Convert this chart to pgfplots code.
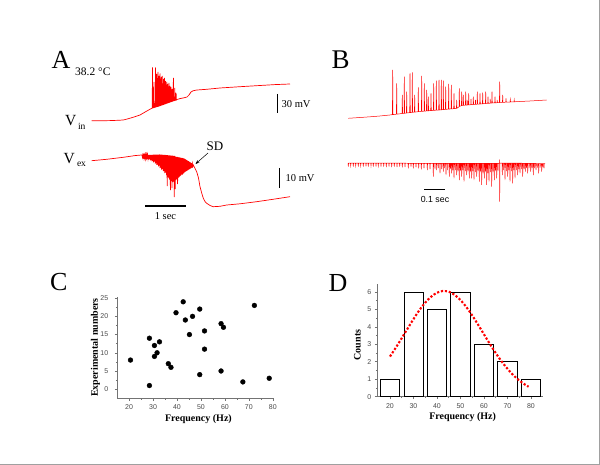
\documentclass[border=0pt]{standalone}
\usepackage{fontspec}
\setmainfont{Liberation Serif}
\newfontfamily\arialfont{Liberation Sans}
\usepackage{pgfplots}
\pgfplotsset{compat=1.18}
\usetikzlibrary{arrows.meta}
\definecolor{trace}{RGB}{255,0,0}
\definecolor{axgray}{RGB}{115,115,115}
\definecolor{lblgray}{RGB}{75,75,75}
\definecolor{framegray}{RGB}{160,160,160}
\begin{document}
\begin{tikzpicture}
\path[use as bounding box, fill=white] (0,0) rectangle (600pt,465pt);
\draw[framegray, line width=1pt] (0,0.7pt) -- (599.4pt,0.7pt) -- (599.4pt,465pt);
% ---------- canvas for panels A and B (pixel coordinates) ----------
\begin{axis}[at={(0pt,0pt)}, anchor=south west, width=600pt, height=465pt,
  scale only axis, xmin=0, xmax=600, ymin=0, ymax=465, y dir=reverse,
  axis lines=none, clip=false]
% A: Vin
\addplot[trace, line width=0.7pt] coordinates {
(91.7,120.7) (100,120.8) (110,120.6) (118,120.3) (123.3,120) (128,118.8) (134,117) (140,115) (146,111.5) (151.7,108.3)
(152.2,108.1) (152.5,67.5) (152.8,107.9)
(153.6,107.7) (153.9,82) (154.2,107.5)
(155.3,107.2) (155.6,67.5) (155.9,107.0)
(156.5,106.8) (156.8,74) (157.1,106.6)
(157.6,106.5) (157.9,72) (158.2,106.3)
(158.7,106.1) (159.0,76) (159.3,106.0)
(159.8,105.8) (160.1,73.5) (160.4,105.6)
(160.9,105.4) (161.2,77) (161.5,105.2)
(162.0,105.0) (162.3,76) (162.6,104.8)
(163.1,104.6) (163.4,79) (163.7,104.4)
(164.2,104.2) (164.5,78) (164.8,104.0)
(165.3,103.8) (165.6,81) (165.9,103.6)
(166.4,103.4) (166.7,82) (167.0,103.2)
(167.5,103.0) (167.8,84) (168.1,102.8)
(168.6,102.6) (168.9,83) (169.2,102.4)
(169.7,102.2) (170.0,86) (170.3,102.0)
(170.8,101.8) (171.1,87) (171.4,101.6)
(172.0,101.4) (172.3,89) (172.6,101.2)
(173.1,101.0) (173.4,78) (173.7,100.8)
(174.5,100.6) (174.8,88) (175.1,100.4)
(175.8,100.2) (176.1,93) (176.4,100.0)
(177,99.5) (180,98.6) (184,97.8) (187,97) (189,95) (191,92) (193.3,90.7) (197,90) (206.7,89.3) (220,88) (240,86.7) (260,85.5) (275,84.6) (290,84)
};
% A: Vex
\addplot[trace, line width=0.7pt] coordinates {
(91.7,160.7) (106.7,159.3) (123.3,157.3) (135,155.6) (141.5,155)
(142.0,155.0) (142.4,157.5) (142.8,155) (143.2,157) (143.6,155) (144.0,158.1)
(144.4,155) (144.8,157.5) (145.2,155) (145.6,158.8) (146.0,155) (146.4,158)
(146.8,155) (147.2,159.1) (147.6,155) (148.0,158.5) (148.4,154.8) (148.8,159.6)
(149.2,154.8) (149.6,159) (150.0,154.8) (150.4,160.3) (150.8,154.8) (151.2,160)
(151.6,154.8) (152.0,161.3) (152.4,154.8) (152.8,160.8) (153.2,154.7) (153.6,162.4)
(154.0,154.7) (154.4,161.5) (154.8,154.7) (155.2,163.5) (155.6,154.7) (156.0,163)
(156.4,154.6) (156.8,164.8) (157.2,154.6) (157.6,164.5) (158.0,154.6) (158.4,166.4)
(158.8,154.6) (159.2,165.5) (159.6,154.5) (160.0,168) (160.4,154.6) (160.8,167.5)
(161.2,154.7) (161.6,169.6) (162.0,154.7) (162.4,169) (162.8,154.8) (163.2,171.2)
(163.6,154.9) (164.0,171) (164.4,154.9) (164.8,173) (165.2,155.0) (165.6,172.5)
(166.0,155.1) (166.4,175.2) (166.8,155.2) (167.2,186) (167.6,155.2) (168.0,177)
(168.4,155.3) (168.8,178) (169.2,155.4) (169.6,179.5) (170.0,155.5) (170.4,190)
(170.8,155.6) (171.2,181) (171.6,155.6) (172.0,188) (172.4,155.7) (172.8,182)
(173.2,155.8) (173.6,181.5) (174.0,155.9) (174.3,197) (174.8,156.0) (175.2,189)
(175.6,156.6) (176.0,180) (176.4,156.8) (176.8,179) (177.2,157.0) (177.6,184)
(178.0,157.1) (178.4,177.5) (178.8,157.3) (179.2,177) (179.6,157.5) (180.0,176)
(180.4,157.6) (180.8,175.5) (181.2,157.8) (181.6,174.5) (182.0,158.0) (182.4,174.5)
(182.8,158.2) (183.2,173.5) (183.6,158.4) (184.0,173) (184.4,158.6) (184.8,172)
(185.2,159.1) (185.6,171.5) (186.0,159.6) (186.4,171) (186.8,160.1) (187.2,170.5)
(187.6,160.6) (188.0,170) (188.4,161.1) (188.8,169.5) (189.2,161.6) (189.6,169)
(190.0,162.1) (190.4,168.5) (190.8,162.6) (191.2,168) (191.6,163.1) (192.0,167.5)
(192.4,163.6) (192.8,166.5)
(193.3,165) (196.7,171.7) (198.5,178) (200,186.7) (201.7,193) (203.3,198.3) (205,201.5) (206.7,203.3) (210,205.5) (213.3,206.7) (220,206.3) (226.7,205) (240,203.8) (256.7,201.7) (275,199) (290,196.7)
};
% B: intracellular
\addplot[trace, line width=0.5pt] coordinates {
(348.3,118.3) (360,117.5) (370,116.8) (380,116) (390,115)
(392.4,114.6)(392.7,70)(393.0,114.6)
(396.4,114.2)(396.7,83.3)(397.0,114.2)
(402.0,113.5)(402.3,95)(402.6,113.5)
(404.0,113.3)(404.3,76.7)(404.6,113.3)
(406.4,113.0)(406.7,91.7)(407.0,113.0)
(409.7,112.6)(410.0,73.3)(410.3,112.6)
(412.0,112.3)(412.3,72.3)(412.6,112.3)
(414.4,112.1)(414.7,95)(415.0,112.1)
(418.0,111.7)(418.3,87.3)(418.6,111.7)
(421.4,111.4)(421.7,76)(422.0,111.4)
(424.0,111.2)(424.3,83.3)(424.6,111.2)
(426.4,110.9)(426.7,90)(427.0,110.9)
(428.0,110.8)(428.3,96.7)(428.6,110.8)
(430.7,110.6)(431.0,93.3)(431.3,110.6)
(433.4,110.4)(433.7,83.3)(434.0,110.4)
(436.0,110.2)(436.3,80.7)(436.6,110.2)
(438.7,110.0)(439.0,80)(439.3,110.0)
(441.0,109.8)(441.3,80)(441.6,109.8)
(443.0,109.6)(443.3,80.7)(443.6,109.6)
(445.4,109.4)(445.7,86.7)(446.0,109.4)
(448.4,109.1)(448.7,84)(449.0,109.1)
(451.0,108.9)(451.3,85)(451.6,108.9)
(453.7,108.7)(454.0,93.3)(454.3,108.7)
(456.4,108.4)(456.7,100)(457.0,108.2)
(459.0,106.8)(459.3,88.3)(459.6,106.4)
(461.4,105.6)(461.7,91.7)(462.0,105.5)
(463.0,105.4)(463.3,95)(463.6,105.3)
(465.4,105.2)(465.7,91.7)(466.0,105.2)
(467.0,105.1)(467.2,100)(467.4,105.0)
(468.4,104.9)(468.7,93.3)(469.0,104.9)
(470.8,104.7)(471.0,99)(471.2,104.7)
(473.0,104.5)(473.3,96.7)(473.6,104.5)
(475.3,104.4)(475.5,100)(475.7,104.4)
(477.0,104.2)(477.3,91.7)(477.6,104.2)
(479.7,104.0)(480.0,93.3)(480.3,104.0)
(482.4,103.8)(482.7,92.7)(483.0,103.8)
(485.4,103.5)(485.7,91.7)(486.0,103.5)
(487.7,103.4)(488.0,96.7)(488.3,103.4)
(490.0,103.2)(490.2,99)(490.4,103.2)
(491.7,103.0)(492.0,91.7)(492.3,103.0)
(494.7,102.9)(495.0,96.7)(495.3,102.9)
(497.0,102.7)(497.2,100)(497.4,102.7)
(499.4,102.5)(499.7,81.7)(500.0,102.5)
(502.4,102.4)(502.7,95)(503.0,102.4)
(505.7,102.2)(506.0,98.3)(506.3,102.2)
(510.0,102.0)(510.3,99.3)(510.6,102.0)
(514.0,101.8)(514.2,100)(514.4,101.8)
(520,101.5)(530,101)(540,100.4)(546.7,100)
};
% B: extracellular
\addplot[trace, line width=0.45pt] coordinates {
(348.0,163.2)(348.3,166.5)(348.6,163.2) (350.4,163.2)(350.7,166)(351.0,163.2)
(353.0,163.2)(353.3,166.7)(353.6,163.2) (355.4,163.2)(355.7,166)(356.0,163.2)
(358.0,163.2)(358.3,166.5)(358.6,163.2) (360.4,163.2)(360.7,166)(361.0,163.2)
(363.0,163.2)(363.3,166.7)(363.6,163.2) (365.7,163.2)(366.0,166.3)(366.3,163.2)
(368.0,163.2)(368.3,166.5)(368.6,163.2) (370.7,163.2)(371.0,166)(371.3,163.2)
(373.0,163.2)(373.3,166.7)(373.6,163.2) (375.7,163.2)(376.0,166.5)(376.3,163.2)
(378.0,163.2)(378.3,166)(378.6,163.2) (380.7,163.2)(381.0,166.7)(381.3,163.2)
(383.4,163.2)(383.7,166.5)(384.0,163.2) (386.0,163.2)(386.3,167)(386.6,163.2)
(388.7,163.2)(389.0,166.5)(389.3,163.2) (391.4,163.2)(391.7,167)(392.0,163.2)
(394.0,163.2)(394.3,166.7)(394.6,163.2) (396.7,163.2)(397.0,167)(397.3,163.2)
(399.4,163.2)(399.7,166.7)(400.0,163.2) (402.0,163.2)(402.3,167.3)(402.6,163.2)
(404.7,163.2)(405.0,167)(405.3,163.2)
(408.0,163.3)(408.3,168.3)(408.6,163.3) (410.7,163.3)(411.0,166.7)(411.3,163.3)
(413.0,163.3)(413.3,168.3)(413.6,163.3) (415.7,163.3)(416.0,167.3)(416.3,163.3)
(418.4,163.3)(418.7,168.3)(419.0,163.3) (421.0,163.4)(421.3,169.3)(421.6,163.4)
(423.7,163.4)(424.0,168.3)(424.3,163.4) (427.0,163.4)(427.3,170)(427.6,163.4)
(429.7,163.4)(430.0,169.3)(430.3,163.4)
(433.0,163.4)(433.3,176.7)(433.6,163.4) (434.8,163.4)(435.0,169)(435.2,163.4)
(436.4,163.4)(436.7,170)(437.0,163.4) (438.1,163.4)(438.3,168)(438.5,163.4)
(439.7,163.4)(440.0,173.3)(440.3,163.4) (441.5,163.4)(441.7,169)(441.9,163.4)
(443.0,163.4)(443.3,171.7)(443.6,163.4) (444.5,163.4)(444.7,168)(444.9,163.4)
(445.7,163.4)(446.0,175)(446.3,163.4) (447.5,163.4)(447.7,170)(447.9,163.4)
(449.0,163.4)(449.3,176.7)(449.6,163.4) (450.3,163.4)(450.5,169)(450.7,163.4)
(451.4,163.4)(451.7,173.3)(452.0,163.4) (452.6,163.4)(452.8,170)(453.0,163.4)
(453.7,163.4)(454.0,178.3)(454.3,163.4) (455.1,163.4)(455.3,170)(455.5,163.4)
(456.4,163.4)(456.7,175)(457.0,163.4) (457.8,163.4)(458.0,171)(458.2,163.4)
(459.0,163.4)(459.3,180)(459.6,163.4) (460.3,163.4)(460.5,171)(460.7,163.4)
(461.4,163.4)(461.7,176.7)(462.0,163.4) (462.6,163.4)(462.8,170)(463.0,163.4)
(463.7,163.4)(464.0,181.7)(464.3,163.4) (465.1,163.4)(465.3,171)(465.5,163.4)
(466.4,163.4)(466.7,175)(467.0,163.4) (467.8,163.4)(468.0,171)(468.2,163.4)
(469.0,163.4)(469.3,178.3)(469.6,163.4) (470.3,163.4)(470.5,172)(470.7,163.4)
(471.4,163.4)(471.7,178.3)(472.0,163.4) (472.6,163.4)(472.8,171)(473.0,163.4)
(473.7,163.4)(474.0,180)(474.3,163.4) (475.1,163.4)(475.3,172)(475.5,163.4)
(476.4,163.4)(476.7,176.7)(477.0,163.4) (477.8,163.4)(478.0,171)(478.2,163.4)
(479.0,163.4)(479.3,181.7)(479.6,163.4) (480.3,163.4)(480.5,172)(480.7,163.4)
(481.4,163.4)(481.7,185)(482.0,163.4) (482.8,163.4)(483.0,173)(483.2,163.4)
(484.0,163.4)(484.3,178.3)(484.6,163.4) (485.3,163.4)(485.5,172)(485.7,163.4)
(486.4,163.4)(486.7,185)(487.0,163.4) (487.6,163.4)(487.8,173)(488.0,163.4)
(488.7,163.4)(489.0,181.7)(489.3,163.4) (490.1,163.4)(490.3,172)(490.5,163.4)
(491.4,163.4)(491.7,186.7)(492.0,163.4) (492.8,163.4)(493.0,172)(493.2,163.4)
(494.0,163.4)(494.3,180)(494.6,163.4) (495.3,163.4)(495.5,171)(495.7,163.4)
(496.4,163.4)(496.7,178.3)(497.0,163.4) (497.8,163.4)(498.0,171)(498.2,163.4)
(499.3,163.2)(499.5,159.3)(499.7,201.7)(500.0,163.2)
(502.0,163.2)(502.3,175)(502.6,163.2) (503.5,163.2)(503.7,170)(503.9,163.2)
(504.7,163.2)(505.0,180)(505.3,163.2) (506.1,163.2)(506.3,171)(506.5,163.2)
(507.4,163.2)(507.7,176.7)(508.0,163.2) (508.6,163.2)(508.8,170)(509.0,163.2)
(509.7,163.2)(510.0,181.7)(510.3,163.2) (511.1,163.2)(511.3,171)(511.5,163.2)
(512.4,163.2)(512.7,183.3)(513.0,163.2) (513.6,163.2)(513.8,170)(514.0,163.2)
(514.7,163.2)(515.0,178.3)(515.3,163.2) (516.1,163.2)(516.3,170)(516.5,163.2)
(517.4,163.2)(517.7,175)(518.0,163.2) (518.6,163.2)(518.8,169)(519.0,163.2)
(519.7,163.2)(520.0,173.3)(520.3,163.2) (521.1,163.2)(521.3,169)(521.5,163.2)
(522.4,163.3)(522.7,176.7)(523.0,163.3) (523.8,163.3)(524.0,169)(524.2,163.3)
(525.0,163.3)(525.3,171.7)(525.6,163.3) (526.3,163.3)(526.5,168)(526.7,163.3)
(527.4,163.3)(527.7,173.3)(528.0,163.3) (529.0,163.3)(529.2,168)(529.4,163.3)
(530.4,163.4)(530.7,171.7)(531.0,163.4) (531.8,163.4)(532.0,168)(532.2,163.4)
(533.0,163.4)(533.3,175)(533.6,163.4) (534.5,163.4)(534.7,168)(534.9,163.4)
(535.7,163.5)(536.0,170)(536.3,163.5) (537.1,163.5)(537.3,167.5)(537.5,163.5)
(538.4,163.5)(538.7,173.3)(539.0,163.5) (540.0,163.6)(540.2,167.5)(540.4,163.6)
(541.4,163.6)(541.7,171.7)(542.0,163.6) (542.6,163.6)(542.8,167)(543.0,163.6)
(543.7,163.7)(544.0,168.3)(544.3,163.7) (545.0,163.7)
};
% scale bars
\addplot[black, line width=1.2pt] coordinates {(277.7,94) (277.7,113)};
\addplot[black, line width=1.2pt] coordinates {(279.2,168) (279.2,188)};
\addplot[black, line width=1.2pt] coordinates {(145,206) (185.7,206)};
\addplot[black, line width=1.2pt] coordinates {(424,189.3) (445,189.3)};
% texts
\node[anchor=base west, inner sep=0pt, font=\fontsize{26}{26}\selectfont] at (axis cs:51.5,68.3) {A};
\node[anchor=base west, inner sep=0pt, font=\fontsize{11.5}{13}\selectfont] at (axis cs:75,75.5) {38.2 °C};
\node[anchor=base west, inner sep=0pt, font=\fontsize{15.5}{16}\selectfont] at (axis cs:65,126) {V};
\node[anchor=base west, inner sep=0pt, font=\fontsize{9.5}{10}\selectfont] at (axis cs:77.8,130) {in};
\node[anchor=base west, inner sep=0pt, font=\fontsize{15.5}{16}\selectfont] at (axis cs:63.3,163.3) {V};
\node[anchor=base west, inner sep=0pt, font=\fontsize{9.5}{10}\selectfont] at (axis cs:76.8,167) {ex};
\node[anchor=base west, inner sep=0pt, font=\fontsize{13}{14}\selectfont] at (axis cs:206.5,151) {SD};
\draw[-{Stealth[length=4pt,width=3pt]}, line width=0.5pt] (axis cs:208,153) -- (axis cs:195.5,164);
\node[anchor=west, inner sep=0pt, font=\fontsize{10.5}{12}\selectfont] at (axis cs:281.5,104.5) {30 mV};
\node[anchor=west, inner sep=0pt, font=\fontsize{10.5}{12}\selectfont] at (axis cs:285.5,178) {10 mV};
\node[anchor=base, inner sep=0pt, font=\fontsize{10.5}{12}\selectfont] at (axis cs:165.5,219.3) {1 sec};
\node[anchor=base, inner sep=0pt, font=\arialfont\fontsize{8.8}{10}\selectfont] at (axis cs:435,202.5) {0.1 sec};
\node[anchor=base west, inner sep=0pt, font=\fontsize{27}{27}\selectfont] at (axis cs:331.5,68.3) {B};
\node[anchor=base west, inner sep=0pt, font=\fontsize{26}{26}\selectfont] at (axis cs:50,291) {C};
\node[anchor=base west, inner sep=0pt, font=\fontsize{26}{26}\selectfont] at (axis cs:328.3,291.7) {D};
\end{axis}
% ---------- panel C ----------
\begin{axis}[at={(117.3pt,66.7pt)}, anchor=south west, width=156pt, height=101.6pt,
  scale only axis, xmin=15.1, xmax=80.2, ymin=-2.5, ymax=25.4,
  axis x line*=bottom, axis y line*=left, tick align=outside,
  major tick length=2.5pt, minor tick length=1.5pt,
  xtick={20,30,...,80}, ytick={0,5,...,25}, minor x tick num=1, minor y tick num=1,
  axis line style={axgray, line width=0.6pt}, tick style={axgray, line width=0.5pt},
  tick label style={font=\arialfont\fontsize{7}{8}\selectfont, text=lblgray},
  /pgf/number format/assume math mode=true, yticklabel shift=3pt,
  xlabel={\bfseries Frequency (Hz)}, ylabel={\bfseries Experimental numbers},
  label style={font=\fontsize{10}{12}\selectfont},
  xlabel style={at={(axis description cs:0.52,-0.207)}, anchor=center},
  ylabel style={at={(axis description cs:-0.14,0.5)}, anchor=center}]
\addplot[only marks, mark=*, mark size=2.4pt, mark options={fill=black, draw=black}] coordinates {
(20.6,8) (28.5,1) (28.5,14) (30.6,12) (30.6,9) (31.7,10) (32.7,13) (36.4,7) (37.5,6)
(39.6,21) (42.6,24) (43.5,19) (45.2,15) (46.5,20) (49.5,22) (49.5,4) (51.5,16) (51.5,11)
(58.4,18) (59.4,17) (58.4,5) (67.5,2) (72.3,23) (78.5,3)
};
\end{axis}
% ---------- panel D ----------
\begin{axis}[at={(377.3pt,68.3pt)}, anchor=south west, width=165.4pt, height=112.7pt,
  scale only axis, xmin=14.6, xmax=85, ymin=0, ymax=6.45,
  axis x line*=bottom, axis y line*=left, tick align=outside,
  major tick length=2.5pt, minor tick length=1.5pt,
  xtick={20,30,...,80}, ytick={0,1,...,6}, minor x tick num=1, minor y tick num=1,
  axis line style={axgray, line width=0.6pt}, tick style={axgray, line width=0.5pt},
  tick label style={font=\arialfont\fontsize{7}{8}\selectfont, text=lblgray},
  /pgf/number format/assume math mode=true, xticklabel shift=1pt,
  xlabel={\bfseries Frequency (Hz)}, ylabel={\bfseries Counts},
  label style={font=\fontsize{10}{12}\selectfont},
  xlabel style={at={(axis description cs:0.516,-0.177)}, anchor=center},
  ylabel style={at={(axis description cs:-0.121,0.459)}, anchor=center}]
\addplot[ybar, bar width=8.2, bar shift=0pt, fill=white, draw=black, line width=0.7pt] coordinates {
(20,1) (30,6) (40,5) (50,6) (60,3) (70,2) (80,1)
};
\addplot[trace, line width=2.1pt, dash pattern=on 2.2pt off 1.8pt, smooth] coordinates {
(20,2.30) (22.5,2.81) (25,3.35) (27.5,3.90) (30,4.44) (32.5,4.95) (35,5.38) (37.5,5.72)
(40,5.95) (42.5,6.05) (45,6.01) (47.5,5.83) (50,5.53) (52.5,5.13) (55,4.65) (57.5,4.12)
(60,3.57) (62.5,3.02) (65,2.50) (67.5,2.02) (70,1.60) (72.5,1.23) (75,0.93) (77.5,0.69) (79,0.57)
};
\end{axis}
\end{tikzpicture}
\end{document}
